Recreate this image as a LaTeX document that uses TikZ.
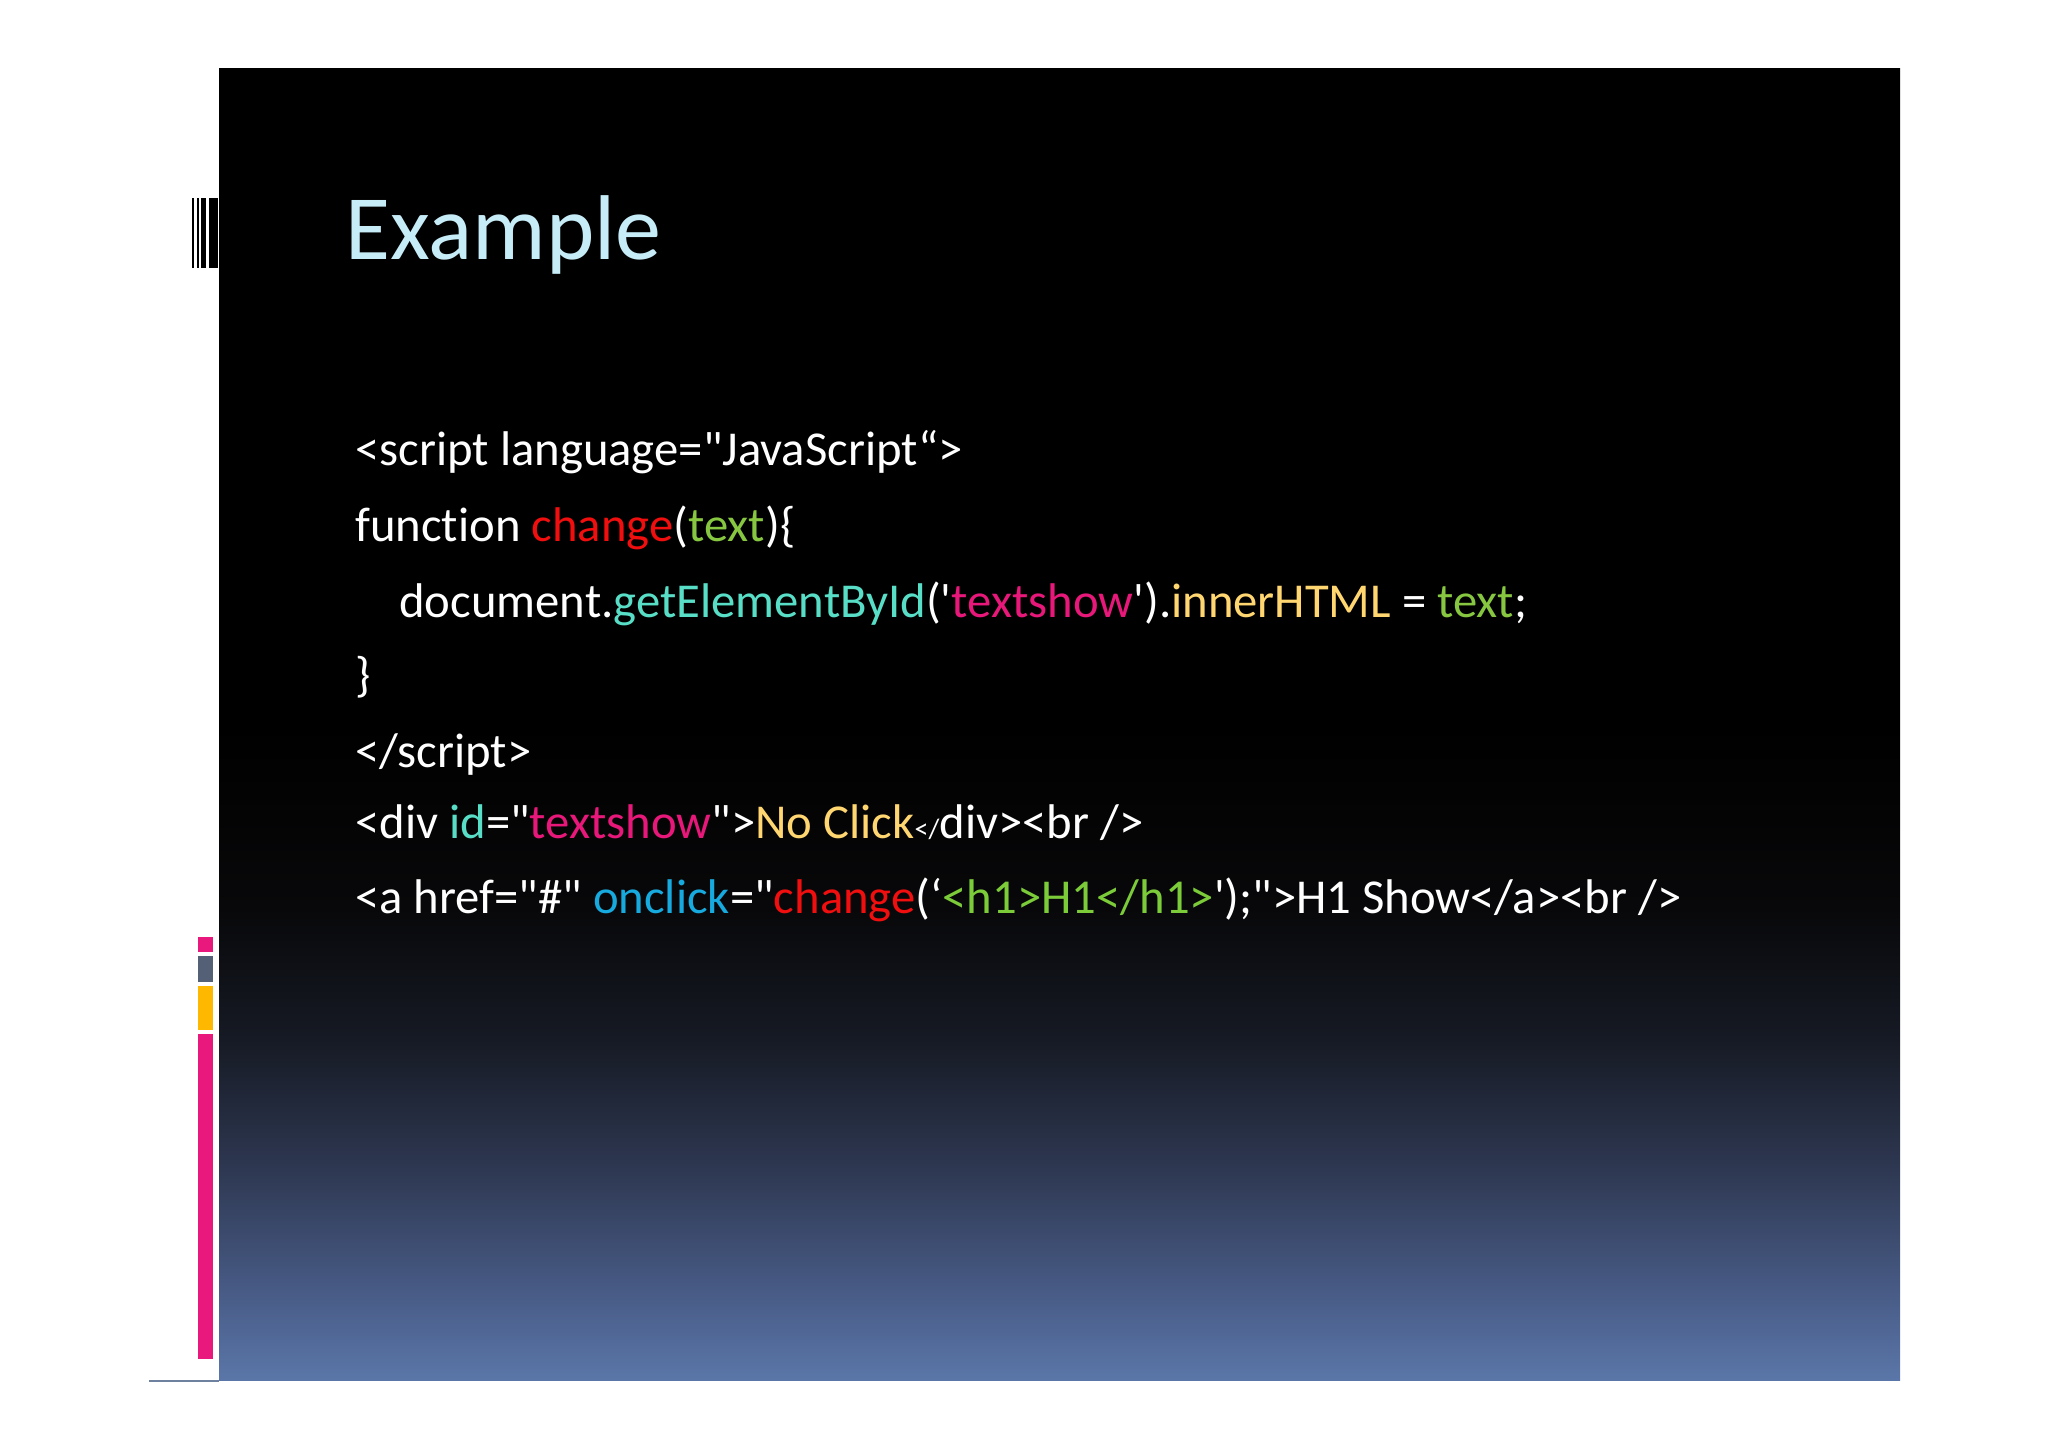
\documentclass[tikz,border=0pt]{standalone}
\usepackage{fontspec}
\setmainfont{Carlito}[Ligatures={TeXOff,NoCommon}]
\usepackage{xcolor}
\usetikzlibrary{positioning}

\definecolor{titlecyan}{RGB}{198,236,248}
\definecolor{fnred}{RGB}{240,14,14}
\definecolor{argreen}{RGB}{134,198,64}
\definecolor{methteal}{RGB}{88,222,198}
\definecolor{strpink}{RGB}{232,24,122}
\definecolor{propgold}{RGB}{255,214,112}
\definecolor{evblue}{RGB}{22,170,222}
\definecolor{tagreen}{RGB}{124,204,58}
\definecolor{barpink}{RGB}{232,24,124}
\definecolor{bargray}{RGB}{84,96,118}
\definecolor{baryellow}{RGB}{255,184,0}
\definecolor{rulegray}{RGB}{110,130,160}
\definecolor{bgbot}{RGB}{90,118,168}
\definecolor{bgC}{RGB}{74,94,138}
\definecolor{bgB}{RGB}{46,56,82}
\definecolor{bgA}{RGB}{22,26,36}
\definecolor{bgtop}{RGB}{8,8,10}
\pgfdeclareverticalshading{slidebg}{100bp}{color(0bp)=(bgbot); color(25bp)=(bgbot); color(28bp)=(bgC); color(33bp)=(bgB); color(38bp)=(bgA); color(43bp)=(bgtop); color(50bp)=(black); color(100bp)=(black)}

\begin{document}
\begin{tikzpicture}[x=0.5pt, y=-0.5pt,
    code/.style={anchor=base west, inner sep=0pt, text=white, font=\fontsize{24.35}{29}\selectfont}]
            \useasboundingbox (0,0) rectangle (2048,1447);

            % Panel
            \shade[shading=slidebg] (219,68) rectangle (1900,1380);
            \draw[rulegray, line width=1.2pt] (149,1381) -- (219,1381);

            % Barcode
            \foreach \xa/\xb in {192/194, 197.3/199, 201/206.3, 209/217.7}
              \fill[black] (\xa,198) rectangle (\xb,268);

            % Side bars
            \fill[barpink] (198,937) rectangle (213,952);
            \fill[bargray] (198,956) rectangle (213,982);
            \fill[baryellow] (198,986) rectangle (213,1030);
            \fill[barpink] (198,1034) rectangle (213,1359);

            % Title
            \node[anchor=base west, inner sep=0pt, text=titlecyan, font=\fontsize{46}{54}\selectfont] (title) at (345,259) {Example};

            % Code
            \node[code] (l1) at (355,465) {<script language="JavaScript“>};
            \node[code] (l2) at (355,541) {function \textcolor{fnred}{change}(\textcolor{argreen}{text})\{};
            \node[code] (l3) at (399,617) {document.\textcolor{methteal}{getElementById}('\textcolor{strpink}{textshow}').\textcolor{propgold}{innerHTML} = \textcolor{argreen}{text};};
            \node[code] (l4) at (355,691) {\}};
            \node[code] (l5) at (355,767) {</script>};
            \node[code] (l6) at (355,838) {<div \textcolor{methteal}{id}="\textcolor{strpink}{textshow}">\textcolor{propgold}{No Click}{\fontsize{14}{16}\selectfont </}div><br />};
            \node[code] (l7) at (355,913) {<a href="\#" \textcolor{evblue}{onclick}="\textcolor{fnred}{change}(‘\textcolor{tagreen}{<h1>H1</h1>}');">H1 Show</a><br />};
        \end{tikzpicture}
\end{document}
